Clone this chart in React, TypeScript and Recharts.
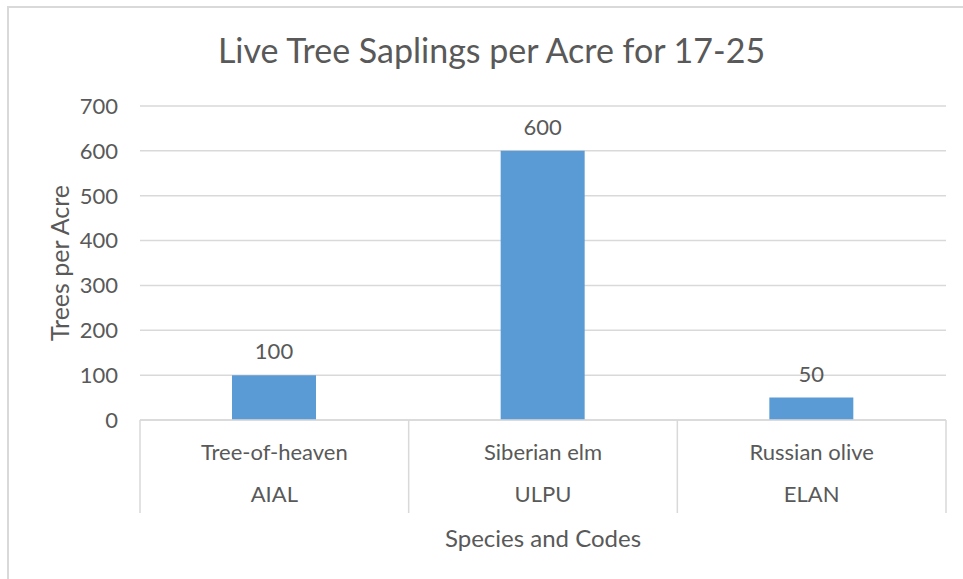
import React from 'react';
import { BarChart, Bar, XAxis, YAxis, CartesianGrid, LabelList } from 'recharts';

const categories = ['Tree-of-heaven', 'Siberian elm', 'Russian olive'];
const codes = ['AIAL', 'ULPU', 'ELAN'];
const values = [100, 600, 50];
const yTicks = [0, 100, 200, 300, 400, 500, 600, 700];

const data = categories.map((c, i) => ({ name: c, code: codes[i], value: values[i] }));

const FONT = 'Lato, "Open Sans", sans-serif';
const TEXT = '#595959';
const GRID = '#d9d9d9';
const TICK_SIZE = 22;

const XTick = (props: any) => {
  const { x, y, payload, index, width, visibleTicksCount } = props;
  const half = payload && payload.offset ? payload.offset : width / visibleTicksCount / 2;
  const row = data[index] || data.find((d) => d.name === payload.value);
  const isLast = index === visibleTicksCount - 1;
  return (
    <g>
      <line x1={x - half} x2={x - half} y1={y} y2={y + 93} stroke={GRID} strokeWidth={1.5} />
      {isLast && <line x1={x + half} x2={x + half} y1={y} y2={y + 93} stroke={GRID} strokeWidth={1.5} />}
      <text x={x} y={y + 31} textAnchor="middle" dominantBaseline="central" fill={TEXT} fontSize={TICK_SIZE} fontFamily={FONT}>
        {payload.value}
      </text>
      <text x={x} y={y + 73} textAnchor="middle" dominantBaseline="central" fill={TEXT} fontSize={TICK_SIZE} fontFamily={FONT}>
        {row ? row.code : ''}
      </text>
    </g>
  );
};

export default function App() {
  return (
    <div style={{ position: 'absolute', left: 0, top: 0, width: 963, height: 579, background: '#fff' }}>
      <div
        style={{
          position: 'absolute',
          left: 7,
          top: 6,
          width: 970,
          height: 590,
          borderLeft: `2px solid ${GRID}`,
          borderTop: `2px solid ${GRID}`,
        }}
      />
      <div
        style={{
          position: 'absolute',
          left: 0,
          width: 983,
          top: 28,
          textAlign: 'center',
          fontFamily: FONT,
          fontSize: 34,
          color: TEXT,
          lineHeight: '44px',
        }}
      >
        Live Tree Saplings per Acre for 17-25
      </div>
      <div style={{ position: 'absolute', left: 0, top: 0 }}>
        <BarChart
          width={963}
          height={579}
          data={data}
          margin={{ top: 106, right: 17, bottom: 29, left: 40 }}
        >
          <CartesianGrid horizontal vertical={false} stroke={GRID} strokeWidth={1.5} />
          <XAxis
            dataKey="name"
            height={130}
            tickLine={false}
            tickSize={0}
            tickMargin={0}
            axisLine={{ stroke: GRID, strokeWidth: 1.5 }}
            tick={<XTick />}
            interval={0}
            label={{
              value: 'Species and Codes',
              position: 'insideBottom',
              offset: 3,
              fill: TEXT,
              fontSize: 24,
              fontFamily: FONT,
            }}
          />
          <YAxis
            width={100}
            domain={[0, 700]}
            ticks={yTicks}
            interval={0}
            axisLine={false}
            tickLine={false}
            tickSize={0}
            tickMargin={22}
            tick={{ fill: TEXT, fontSize: TICK_SIZE, fontFamily: FONT }}
            label={{
              value: 'Trees per Acre',
              angle: -90,
              position: 'insideLeft',
              offset: 20,
              style: { textAnchor: 'middle' },
              fill: TEXT,
              fontSize: 25,
              fontFamily: FONT,
            }}
          />
          <Bar dataKey="value" fill="#5B9BD5" barSize={84} isAnimationActive={false}>
            <LabelList dataKey="value" position="top" offset={16} fill={TEXT} fontSize={TICK_SIZE} fontFamily={FONT} />
          </Bar>
        </BarChart>
      </div>
    </div>
  );
}
